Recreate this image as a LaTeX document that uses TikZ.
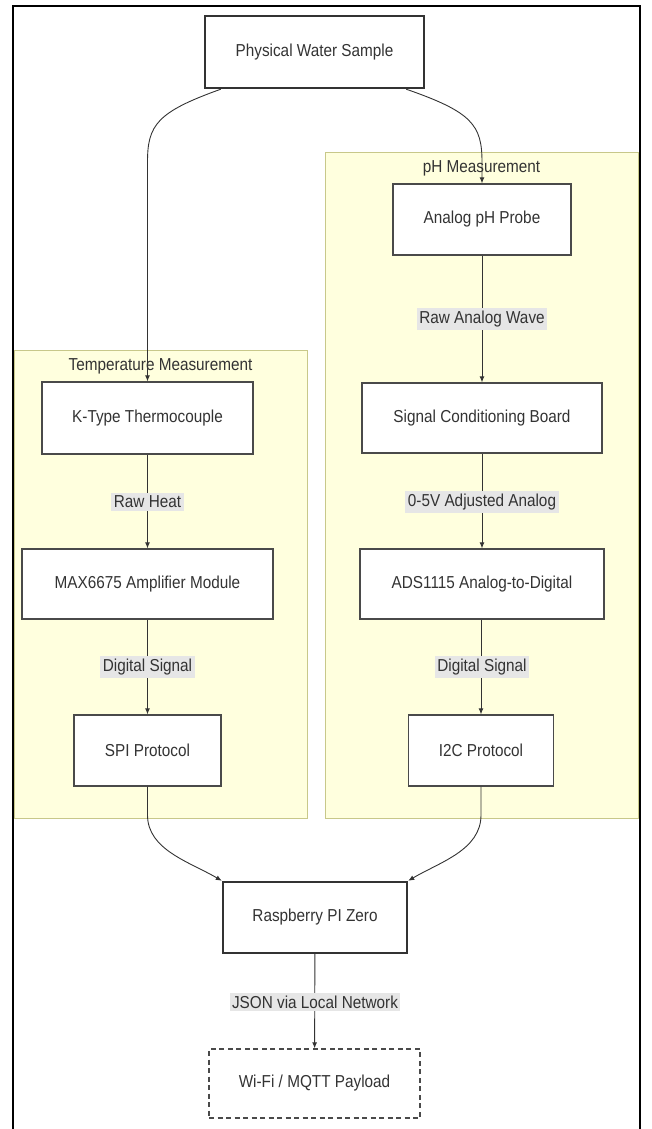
\documentclass[tikz,border=0pt]{standalone}
\usepackage{fontspec}
\setmainfont{Liberation Sans}[FakeStretch=0.885]
\usetikzlibrary{arrows.meta,calc}
\definecolor{txt}{HTML}{333333}
\definecolor{nodeline}{HTML}{4A4A4A}
\definecolor{clusterfill}{HTML}{FFFFDE}
\definecolor{clusterline}{HTML}{C8C88A}
\definecolor{lblgray}{HTML}{E6E6E6}
\tikzset{
  every node/.style={font=\fontsize{17.3}{20}\selectfont, text=txt},
  stepbox/.style={draw=nodeline, line width=1.3pt, fill=white, inner sep=0pt},
  heavybox/.style={draw=txt, line width=2.4pt, fill=white, inner sep=0pt},
  dashbox/.style={draw=nodeline, line width=1.3pt, fill=white, inner sep=0pt, dash pattern=on 5pt off 3.5pt},
  cluster/.style={draw=clusterline, line width=0.9pt, fill=clusterfill},
  elabel/.style={fill=lblgray, inner sep=2.5pt},
  conn/.style={draw=txt, line width=0.9pt, -{Latex[length=6pt,width=5pt]}}
}
\begin{document}
\begin{tikzpicture}[x=1pt,y=-1pt]
\useasboundingbox (0,0) rectangle (651,1129);
% outer frame
\draw[line width=2pt, black] (13,1129) -- (13,6) -- (640,6) -- (640,1129);
% clusters
\draw[cluster] (325,152) rectangle (638,818);
\draw[cluster] (14,350) rectangle (307,818);
\node (phlbl) at (481.5,168) {pH Measurement};
\node (templbl) at (160.5,366) {Temperature Measurement};
% nodes
\node[heavybox, minimum width=219pt, minimum height=72pt] (pws) at (314.5,52) {Physical Water Sample};
\node[stepbox, minimum width=178pt, minimum height=71pt] (ph) at (482,219.5) {Analog pH Probe};
\node[stepbox, minimum width=240pt, minimum height=70pt] (scb) at (482,418) {Signal Conditioning Board};
\node[stepbox, minimum width=244pt, minimum height=70pt] (ads) at (482,584) {ADS1115 Analog-to-Digital};
\node[stepbox, minimum width=145pt, minimum height=71pt] (i2c) at (481,750.5) {I2C Protocol};
\node[stepbox, minimum width=211pt, minimum height=72pt] (kt) at (147.5,418) {K-Type Thermocouple};
\node[stepbox, minimum width=251pt, minimum height=70pt] (max) at (147.5,584) {MAX6675 Amplifier Module};
\node[stepbox, minimum width=147pt, minimum height=71pt] (spi) at (147.5,750.5) {SPI Protocol};
\node[heavybox, minimum width=184pt, minimum height=71pt] (rpi) at (315,917.5) {Raspberry PI Zero};
\node[dashbox, minimum width=211pt, minimum height=69pt] (wifi) at (314.5,1083.5) {Wi-Fi / MQTT Payload};
% connectors
\coordinate (pwsL) at ([xshift=17pt]pws.south west);
\coordinate (pwsR) at ([xshift=-19pt]pws.south east);
\draw[conn] (pwsL) .. controls (157,112) and (147.5,125) .. (147.5,162) -- (kt.north);
\draw[conn] (pwsR) .. controls (472,112) and (482,125) .. (482,162) -- (ph.north);
\draw[conn] (ph) -- (scb) node[elabel, pos=0.5] (l1) at (482,303) {Raw Analog Wave};
\draw[conn] (scb) -- (ads);
\node[elabel] (l2) at (482,502) {0-5V Adjusted Analog};
\draw[conn] (ads.south -| i2c.north) -- (i2c.north);
\node[elabel] (l3) at (482,667) {Digital Signal};
\draw[conn] (kt) -- (max);
\node[elabel] (l4) at (147.5,502) {Raw Heat};
\draw[conn] (max) -- (spi);
\node[elabel] (l5) at (147.5,667) {Digital Signal};
\draw[conn] (spi.south) -- (147.5,815) .. controls (147.5,850) and (190,862) .. (rpi.north west);
\draw[conn] (i2c.south) -- (481,815) .. controls (481,850) and (440,862) .. (rpi.north east);
\draw[conn] (rpi) -- (wifi);
\node[elabel] (l6) at (315,1002) {JSON via Local Network};
\end{tikzpicture}
\end{document}
